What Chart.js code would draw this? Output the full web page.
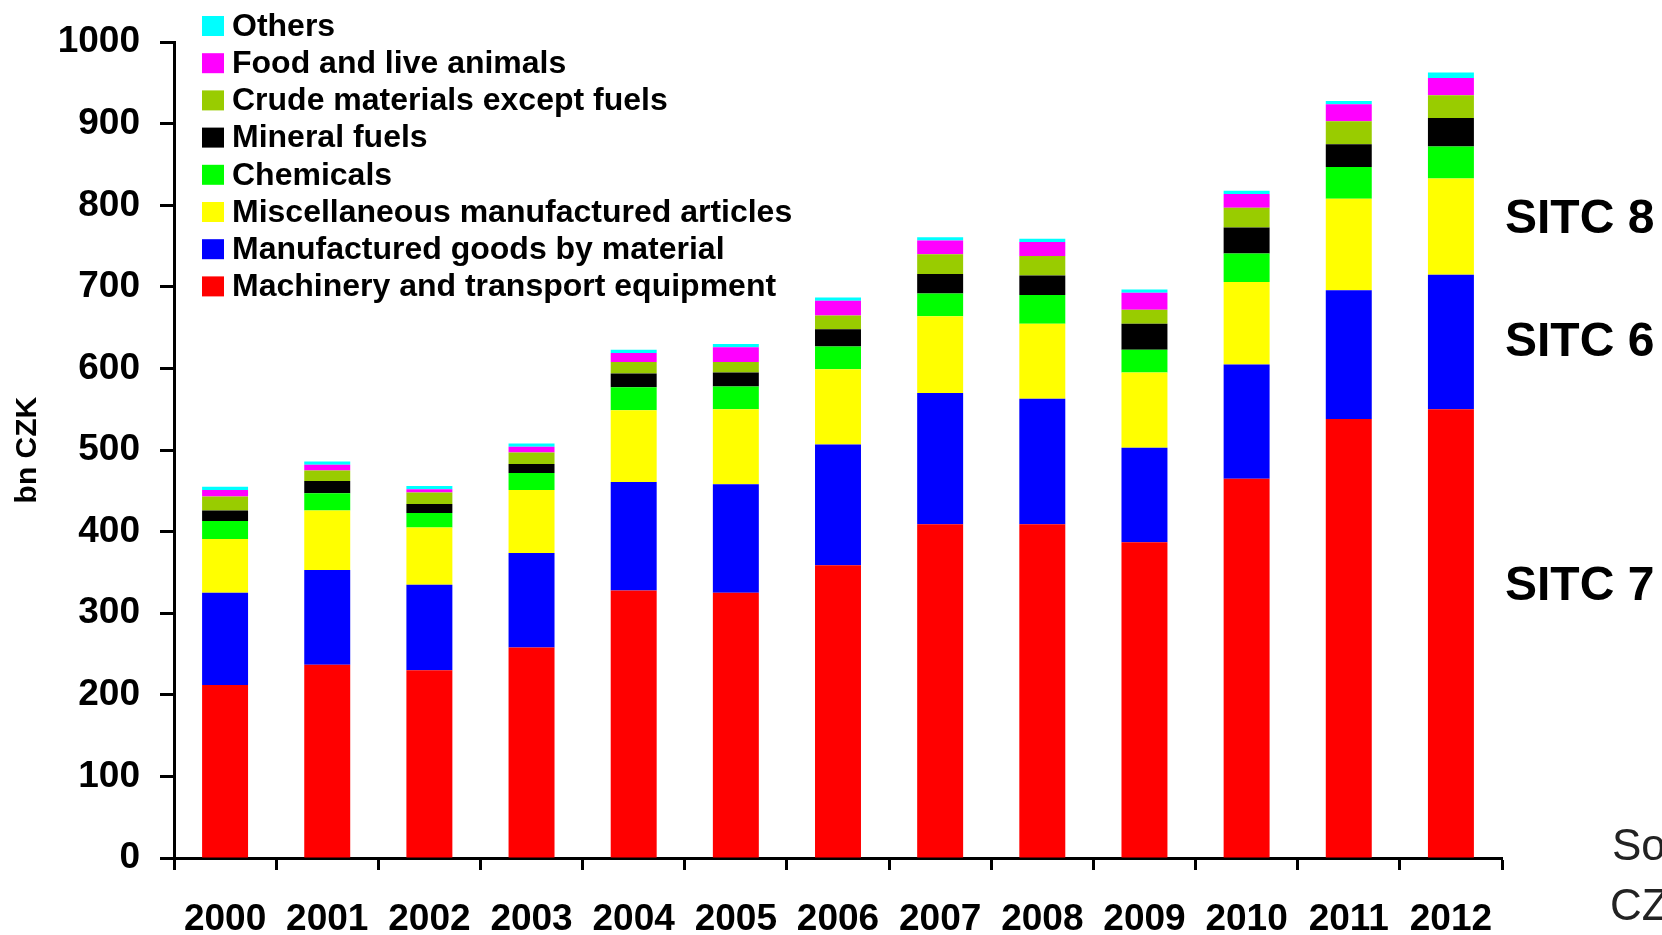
<!DOCTYPE html>
<html>
<head>
<meta charset="utf-8">
<script src="https://cdn.jsdelivr.net/npm/chart.js@4.4.0/dist/chart.umd.min.js"></script>
<style>
  body { margin: 0; background: #fff; }
  #wrap { width: 1662px; height: 935px; position: relative; }
</style>
</head>
<body>
<div id="wrap"><canvas id="exports"></canvas></div>
<script>
const years = ['2000', '2001', '2002', '2003', '2004', '2005', '2006', '2007', '2008', '2009', '2010', '2011', '2012'];
const yTicks = [0, 100, 200, 300, 400, 500, 600, 700, 800, 900, 1000];

// bn CZK per year, bottom of the stack first
const machinery = [212, 237, 230, 258, 328, 325, 359, 409, 409, 387, 465, 538, 550];
const manufGoods = [113, 116, 105, 116, 133, 133, 148, 161, 154, 116, 140, 158, 165];
const miscArticles = [66, 73, 70, 77, 88, 92, 92, 94, 92, 92, 101, 112, 118];
const chemicals = [22, 21, 18, 21, 28, 28, 28, 28, 35, 28, 35, 39, 39];
const mineralFuels = [13, 15, 11, 11, 17, 17, 21, 24, 24, 32, 32, 28, 35];
const crudeMaterials = [17, 13, 14, 14, 14, 13, 17, 24, 24, 17, 24, 28, 28];
const foodAnimals = [8, 7, 4, 7, 11, 18, 18, 17, 17, 21, 17, 21, 21];
const others = [4, 4, 4, 4, 4, 4, 4, 4, 4, 4, 4, 4, 7];

const seriesNames = ['Machinery and transport equipment', 'Manufactured goods by material', 'Miscellaneous manufactured articles',
    'Chemicals', 'Mineral fuels', 'Crude materials except fuels', 'Food and live animals', 'Others'];
const seriesValues = [machinery, manufGoods, miscArticles, chemicals, mineralFuels, crudeMaterials, foodAnimals, others];
const seriesColors = ['#ff0000', '#0000ff', '#ffff00', '#00ff00', '#000000', '#99cc00', '#ff00ff', '#00ffff'];

const sitcLabels = [['SITC 8', 220], ['SITC 6', 343], ['SITC 7', 587]];
const sourceLines = ['Source:', 'CZSO'];

const FONT = "'Liberation Sans', Arial, sans-serif";

// legend, side labels and source note drawn on top of the chart
const extras = {
    id: 'extras',
    afterDraw(chart) {
        const ctx = chart.ctx;
        ctx.save();
        ctx.textBaseline = 'middle';
        ctx.textAlign = 'left';
        // legend, Others on top
        ctx.font = 'bold 32px ' + FONT;
        for (let i = 0; i < seriesNames.length; i++) {
            const k = seriesNames.length - 1 - i;
            const y = 26 + 37.2 * i;
            ctx.fillStyle = seriesColors[k];
            ctx.fillRect(202, y - 10, 22, 20);
            ctx.fillStyle = '#000';
            ctx.fillText(seriesNames[k], 232, y + 1);
        }
        ctx.font = 'bold 48px ' + FONT;
        sitcLabels.forEach(function (s) {
            ctx.fillText(s[0], 1505, s[1]);
        });
        ctx.font = '44px ' + FONT;
        ctx.fillStyle = '#222';
        ctx.fillText(sourceLines[0], 1612, 848);
        ctx.fillText(sourceLines[1], 1610, 908);
        ctx.restore();
    }
};

const datasets = seriesNames.map(function (name, i) {
    return {
        label: name,
        data: seriesValues[i],
        backgroundColor: seriesColors[i],
        borderWidth: 0,
        categoryPercentage: 1,
        barPercentage: 0.45
    };
});

const config = {
    type: 'bar',
    data: { labels: years, datasets: datasets },
    plugins: [extras],
    options: {
        responsive: true,
        maintainAspectRatio: false,
        animation: false,
        layout: { padding: { top: 39, right: 160, left: 0, bottom: 0 } },
        plugins: {
            legend: { display: false },
            tooltip: { enabled: false }
        },
        scales: {
            x: {
                stacked: true,
                grid: { drawOnChartArea: false, offset: true, tickLength: 12, tickWidth: 3, tickColor: '#000' },
                border: { display: true, color: '#000', width: 3 },
                ticks: { color: '#000', font: { family: FONT, size: 37, weight: 'bold' }, padding: 28, maxRotation: 0 },
                afterFit(scale) { scale.height = 77; }
            },
            y: {
                stacked: true,
                min: yTicks[0],
                max: yTicks[yTicks.length - 1],
                afterBuildTicks(scale) { scale.ticks = yTicks.map(function (v) { return { value: v }; }); },
                grid: { drawOnChartArea: false, tickLength: 14, tickWidth: 3, tickColor: '#000' },
                border: { display: true, color: '#000', width: 3 },
                ticks: {
                    color: '#000',
                    font: { family: FONT, size: 37, weight: 'bold' },
                    padding: 20,
                    callback: function (v) { return String(v); }
                },
                title: { display: true, text: 'bn CZK', color: '#000', font: { family: FONT, size: 30, weight: 'bold' }, padding: { top: 10, bottom: 0 } },
                afterFit(scale) { scale.width = 174; }
            }
        }
    }
};

const ctx = document.getElementById('exports');
const chart = new Chart(ctx, config);
</script>
</body>
</html>
